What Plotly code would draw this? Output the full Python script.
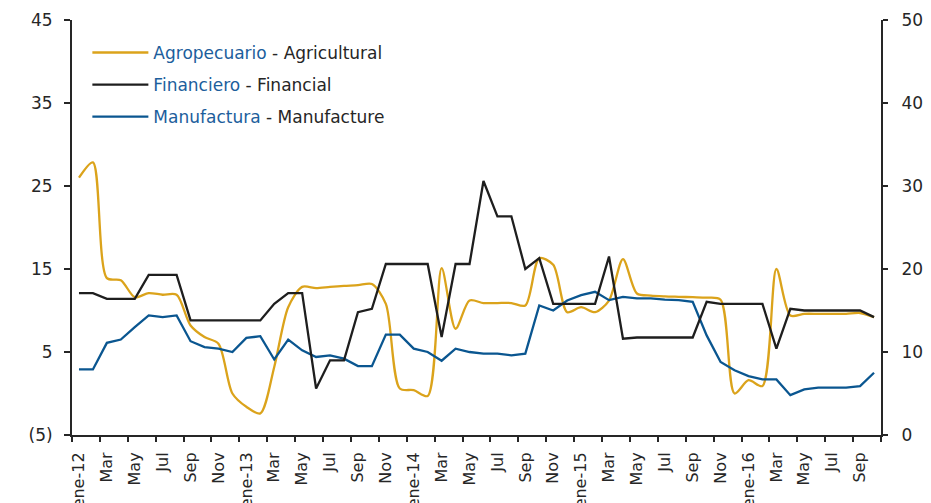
import plotly.graph_objects as go

# Monthly, Jan 2012 .. Oct 2016
years = [12, 13, 14, 15, 16]
month_abbr = ["ene", "feb", "mar", "abr", "may", "jun", "jul", "ago", "sep", "oct", "nov", "dic"]
months = [f"{m}-{y}" for y in years for m in month_abbr][:58]

agricultural = [26.0, 27.85, 13.9, 13.65, 11.6, 12.1, 11.9, 11.9, 8.2, 6.8,
                6.0, 0.0, -1.6, -2.4, 3.2, 10.4, 12.85, 12.7, 12.85, 12.97,
                13.05, 13.2, 10.8, 0.6, 0.4, -0.3, 15.1, 7.8, 11.2, 10.9,
                10.9, 10.9, 10.6, 16.3, 15.5, 9.8, 10.4, 9.8, 11.2, 16.2,
                12.05, 11.8, 11.7, 11.65, 11.6, 11.55, 11.3, 0.0, 1.6, 0.9,
                15.0, 9.4, 9.6, 9.6, 9.6, 9.6, 9.7, 9.2]

# Financial plotted on the right axis (0-50)
financial = [17.1, 17.1, 16.4, 16.4, 16.4, 19.3, 19.3, 19.3, 13.8, 13.8,
             13.8, 13.8, 13.8, 13.8, 15.8, 17.1, 17.1, 5.6, 9.0, 9.0,
             14.8, 15.2, 20.6, 20.6, 20.6, 20.6, 11.8, 20.6, 20.6, 30.6,
             26.35, 26.35, 20.0, 21.3, 15.8, 15.8, 15.8, 15.8, 21.5, 11.6,
             11.75, 11.75, 11.75, 11.75, 11.75, 16.05, 15.8, 15.8, 15.8, 15.8,
             10.4, 15.2, 15.0, 15.0, 15.0, 15.0, 15.0, 14.2]

manufacture = [2.9, 2.9, 6.1, 6.5, 8.0, 9.4, 9.2, 9.4, 6.3, 5.6,
               5.4, 5.0, 6.7, 6.9, 4.1, 6.5, 5.2, 4.4, 4.6, 4.2,
               3.3, 3.3, 7.1, 7.1, 5.4, 5.0, 3.95, 5.4, 5.0, 4.8,
               4.8, 4.6, 4.8, 10.6, 10.0, 11.2, 11.85, 12.25, 11.25, 11.65,
               11.45, 11.45, 11.3, 11.25, 11.05, 7.0, 3.8, 2.8, 2.1, 1.7,
               1.7, -0.2, 0.5, 0.7, 0.7, 0.7, 0.9, 2.5]

x_tick_text = []
for y in years:
    x_tick_text += [f"ene-{y}", "Mar", "May", "Jul", "Sep", "Nov"]
x_tick_text = x_tick_text[:29]

left_ticks = [-5, 5, 15, 25, 35, 45]
left_tick_text = ["(5)", "5", "15", "25", "35", "45"]
right_ticks = [0, 10, 20, 30, 40, 50]

GOLD = "#DBA31B"
BLACK = "#1E1E1E"
BLUE = "#0A5690"
LBLUE = "#1C5E9C"
TXT = "#262626"
FONT = "DejaVu Sans"

xi = list(range(len(months)))

fig = go.Figure()
fig.add_trace(go.Scatter(
    x=xi, y=agricultural, mode="lines", line=dict(color=GOLD, width=2.3, shape="spline", smoothing=0.8),
    name=f'<span style="color:{LBLUE}">Agropecuario</span> - Agricultural', legendgroup="a",
    customdata=months))
fig.add_trace(go.Scatter(
    x=xi, y=financial, mode="lines", line=dict(color=BLACK, width=2.3), yaxis="y2",
    name=f'<span style="color:{LBLUE}">Financiero</span> - Financial', legendgroup="b",
    customdata=months))
fig.add_trace(go.Scatter(
    x=xi, y=manufacture, mode="lines", line=dict(color=BLUE, width=2.3),
    name=f'<span style="color:{LBLUE}">Manufactura</span> - Manufacture', legendgroup="c",
    customdata=months))

fig.update_layout(
    width=923, height=495,
    margin=dict(l=64, r=50, t=11.5, b=68, autoexpand=False),
    paper_bgcolor="white", plot_bgcolor="white",
    font=dict(family=FONT, size=17, color=TXT),
    showlegend=True,
    legend=dict(x=0.019, y=0.964, xanchor="left", yanchor="top",
                bgcolor="rgba(0,0,0,0)", font=dict(family=FONT, size=17, color=TXT),
                tracegroupgap=7, itemwidth=56),
    xaxis=dict(range=[-0.5, len(months) - 0.5], tickmode="array",
               tickvals=list(range(0, len(months), 2))[:29], ticktext=x_tick_text,
               tickangle=-90, ticks="outside", ticklen=9, tickcolor="rgba(0,0,0,0)",
               showline=True, linecolor=TXT, linewidth=2, showgrid=False, zeroline=False,
               automargin=False,
               minor=dict(tickmode="array", tickvals=[v - 0.5 for v in range(0, len(months) + 1, 2)],
                          ticks="outside", ticklen=5, tickwidth=2, tickcolor=TXT, showgrid=False),
               tickfont=dict(family=FONT, size=16, color=TXT)),
    yaxis=dict(range=[-5, 45], tickmode="array", tickvals=left_ticks, ticktext=left_tick_text,
               ticks="outside", ticklen=6, tickwidth=2, tickcolor=TXT, automargin=False,
               showline=True, linecolor=TXT, linewidth=2, showgrid=False, zeroline=False,
               ticklabelstandoff=8, tickfont=dict(family=FONT, size=17, color=TXT)),
    yaxis2=dict(range=[0, 50], overlaying="y", side="right", tickmode="array", tickvals=right_ticks,
                ticks="outside", ticklen=5, tickwidth=2, tickcolor=TXT, automargin=False,
                showline=True, linecolor=TXT, linewidth=2, showgrid=False, zeroline=False,
                ticklabelstandoff=10, tickfont=dict(family=FONT, size=17, color=TXT)),
)

fig.write_html("out.html")
